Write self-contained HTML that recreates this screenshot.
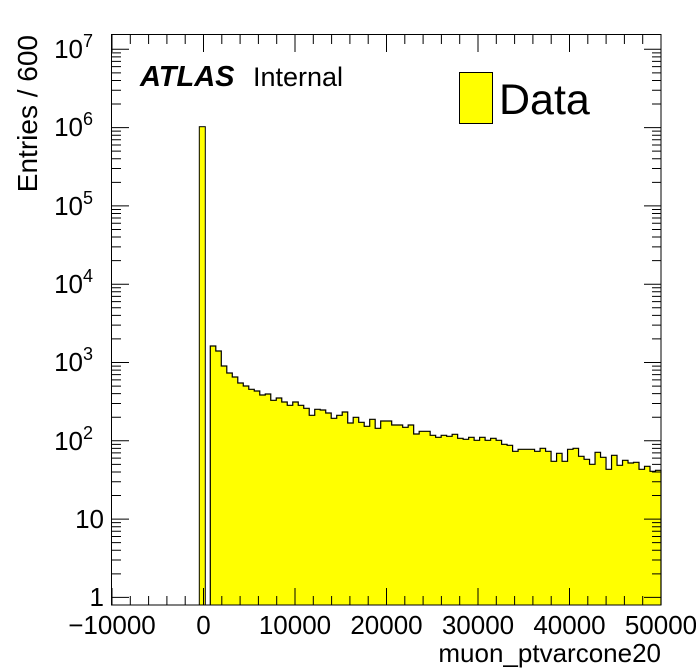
<!DOCTYPE html>
<html><head><meta charset="utf-8"><style>
html,body{margin:0;padding:0;background:#fff;}
svg{display:block;font-family:"Liberation Sans",sans-serif;}
</style></head><body>
<svg id="s" width="696" height="672" xmlns="http://www.w3.org/2000/svg">
<g id="hist"></g>
<g id="ax" stroke="#000" stroke-width="1" fill="none"></g>
<rect x="111.5" y="34.5" width="549.5" height="570.5" fill="none" stroke="#000"/>
<g font-size="26" text-anchor="end" fill="#000">
<text x="93" y="58">10<tspan font-size="18" dy="-11">7</tspan></text>
<text x="93" y="136">10<tspan font-size="18" dy="-11">6</tspan></text>
<text x="93" y="215">10<tspan font-size="18" dy="-11">5</tspan></text>
<text x="93" y="293">10<tspan font-size="18" dy="-11">4</tspan></text>
<text x="93" y="371">10<tspan font-size="18" dy="-11">3</tspan></text>
<text x="93" y="450">10<tspan font-size="18" dy="-11">2</tspan></text>
<text x="104" y="528">10</text>
<text x="104" y="606">1</text>
</g>
<g font-size="26" text-anchor="middle" fill="#000">
<text x="112" y="634">−10000</text>
<text x="203.5" y="634">0</text>
<text x="295" y="634">10000</text>
<text x="386.5" y="634">20000</text>
<text x="478" y="634">30000</text>
<text x="569.5" y="634">40000</text>
<text x="661" y="634">50000</text>
</g>
<text x="661" y="662" font-size="26" text-anchor="end">muon_ptvarcone20</text>
<text transform="translate(37,35) rotate(-90)" font-size="28" text-anchor="end">Entries / 600</text>
<text x="140" y="86" font-size="29" font-weight="bold" font-style="italic">ATLAS</text>
<text x="253" y="86" font-size="27">Internal</text>
<rect x="459.5" y="72.5" width="33" height="51" fill="#ffff00" stroke="#000"/>
<text x="499" y="114" font-size="43">Data</text>
</svg>
<script>
var ys=[346,351,366,373,377,383,386,389.3,391,395,394,400.3,398,402,405.3,402,405.3,408.3,415.3,409.3,410,413,418.3,415.3,412,423,417.3,422.3,426.3,419.3,428.3,421,421,425,425,427.3,425,434,
431.3,431.3,435.3,437.3,435.3,436.3,434.3,438.3,439.3,437.3,440.3,437.3,440.3,438.3,440.3,444.3,445.3,451.3,449.3,449.3,449.3,451.3,448.3,451.3,461.3,453.3,461.3,449.3,448.3,456.3,459.3,464.3,452.3,457.3,469.3,455.3,465.3,460.3,463,462.3,469.3,466.3,471.3,470.3];
var w=(661-210.3)/ys.length, x0=210.3, B=605;
var d="M"+x0+","+B;
for(var i=0;i<ys.length;i++){d+=" L"+(x0+i*w)+","+ys[i]+" L"+(x0+(i+1)*w)+","+ys[i];}
d+=" L661,"+B;
var h=document.getElementById("hist");
h.innerHTML='<path d="'+d+'Z" fill="#ffff00"/><path d="'+d+'" fill="none" stroke="#000" stroke-width="1.2"/>'+
'<rect x="199.3" y="126.7" width="6" height="478.3" fill="#ffff00" stroke="#000" stroke-width="1"/>';
var a="";
var L=112,R=661,T=35,Bt=605;
for(var v=-10000;v<=50000;v+=2000){var x=L+(v+10000)/60000*(R-L);var len=(v%10000==0)?17:9;
a+="M"+x+","+Bt+"v-"+len+"M"+x+","+T+"v"+len;}
var y0=597.4,dec=78.3;
for(var e=0;e<=7;e++){for(var m=1;m<=9;m++){var y=y0-(e+Math.log10(m))*dec;if(y<T||y>Bt)continue;var len=m==1?17:9;
a+="M"+L+","+y+"h"+len+"M"+R+","+y+"h-"+len;}}
document.getElementById("ax").innerHTML='<path d="'+a+'"/>';
</script>
</body></html>
